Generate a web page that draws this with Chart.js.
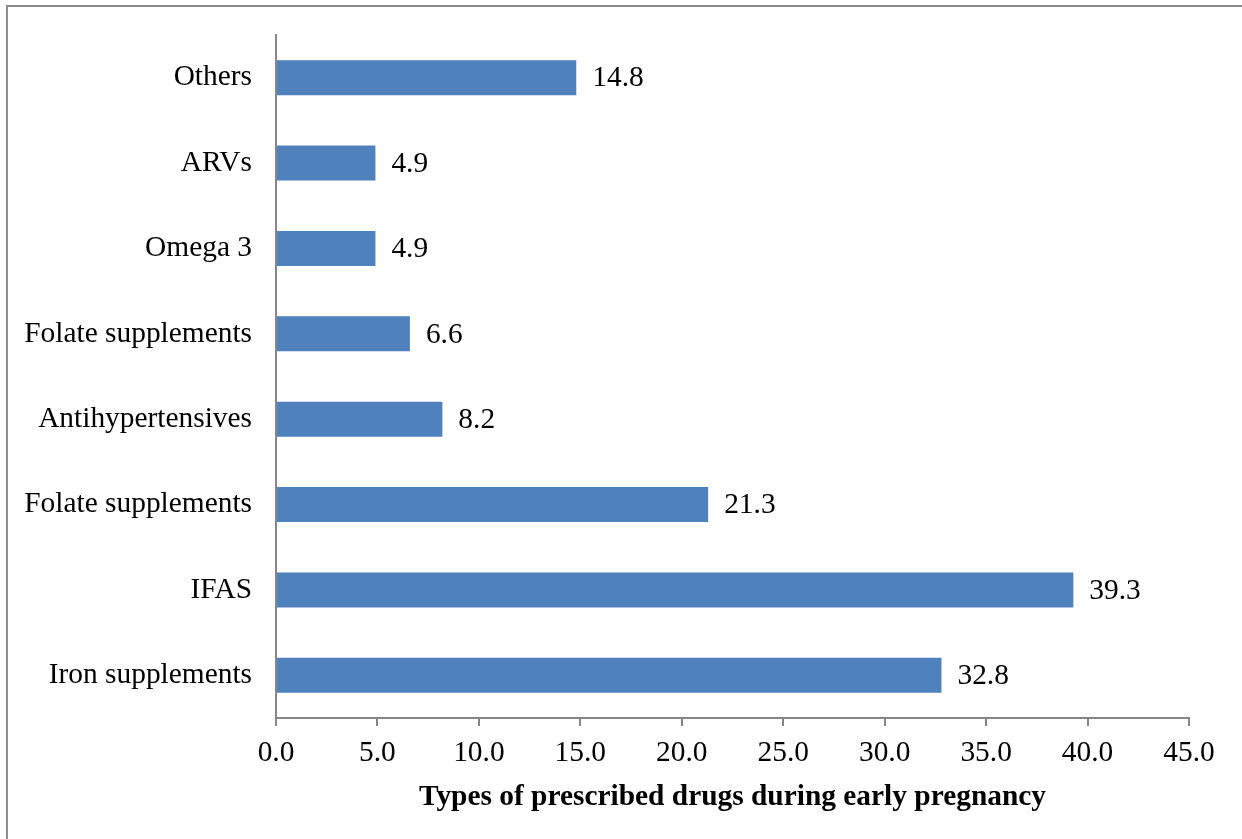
<!DOCTYPE html>
<html>
<head>
<meta charset="utf-8">
<script src="https://cdn.jsdelivr.net/npm/chart.js@4.4.1/dist/chart.umd.min.js"></script>
<style>
  html, body { margin: 0; padding: 0; background: #fff; }
  #wrap { position: relative; width: 1242px; height: 839px; overflow: hidden; }
  #frame { position: absolute; left: 6px; top: 5px; width: 1300px; height: 900px;
           border-left: 2px solid #8c8c8c; border-top: 2px solid #8c8c8c; box-sizing: border-box; }
  canvas { position: absolute; left: 0; top: 0; }
</style>
</head>
<body>
<div id="wrap">
  <div id="frame"></div>
  <canvas id="chart" width="1242" height="839"></canvas>
</div>
<script>
// Drug categories, listed top to bottom
const categories = [
  'Others',
  'ARVs',
  'Omega 3',
  'Folate supplements',
  'Antihypertensives',
  'Folate supplements',
  'IFAS',
  'Iron supplements'
];
// Percentage of women prescribed each drug type
const percentages = [14.8, 4.9, 4.9, 6.6, 8.2, 21.3, 39.3, 32.8];
const axisTitle = 'Types of prescribed drugs during early pregnancy';

const serif = '"Liberation Serif", "Times New Roman", serif';
const axisGrey = '#868686';
const fontSize = 29.4;

// Writes each bar's value just past its end
const valueLabels = {
  id: 'valueLabels',
  afterDatasetsDraw(chart) {
    const ctx = chart.ctx;
    const meta = chart.getDatasetMeta(0);
    ctx.save();
    ctx.font = fontSize + 'px ' + serif;
    ctx.fillStyle = '#000';
    ctx.textAlign = 'left';
    ctx.textBaseline = 'middle';
    meta.data.forEach((bar, i) => {
      ctx.fillText(percentages[i].toFixed(1), bar.x + 16, bar.y + 1);
    });
    ctx.restore();
  }
};

new Chart(document.getElementById('chart'), {
  type: 'bar',
  data: {
    labels: categories,
    datasets: [{
      data: percentages,
      backgroundColor: '#4F81BD',
      borderWidth: 0,
      barPercentage: 0.82,
      categoryPercentage: 0.5
    }]
  },
  options: {
    indexAxis: 'y',
    responsive: false,
    animation: false,
    devicePixelRatio: 1,
    layout: { padding: { left: 0, right: 53, top: 35, bottom: 0 } },
    plugins: { legend: { display: false }, tooltip: { enabled: false } },
    scales: {
      x: {
        min: 0,
        max: 45,
        ticks: {
          stepSize: 5,
          color: '#000',
          font: { family: serif, size: fontSize },
          padding: 10,
          callback: v => Number(v).toFixed(1)
        },
        grid: {
          display: true,
          drawOnChartArea: false,
          drawTicks: true,
          tickLength: 8,
          color: axisGrey,
          lineWidth: 2
        },
        border: { display: true, color: axisGrey, width: 2 },
        title: {
          display: true,
          text: axisTitle,
          color: '#000',
          font: { family: serif, size: fontSize, weight: 'bold' },
          padding: { top: 0, bottom: 24 }
        },
        afterFit(scale) { scale.height = 121; }
      },
      y: {
        ticks: {
          color: '#000',
          font: { family: serif, size: fontSize },
          padding: 24,
          autoSkip: false
        },
        grid: { display: false, drawTicks: false },
        border: { display: true, color: axisGrey, width: 2 },
        afterFit(scale) {
          scale.width = 276;
          scale.paddingTop = 0;
          scale.paddingBottom = 0;
        }
      }
    }
  },
  plugins: [valueLabels]
});
</script>
</body>
</html>
